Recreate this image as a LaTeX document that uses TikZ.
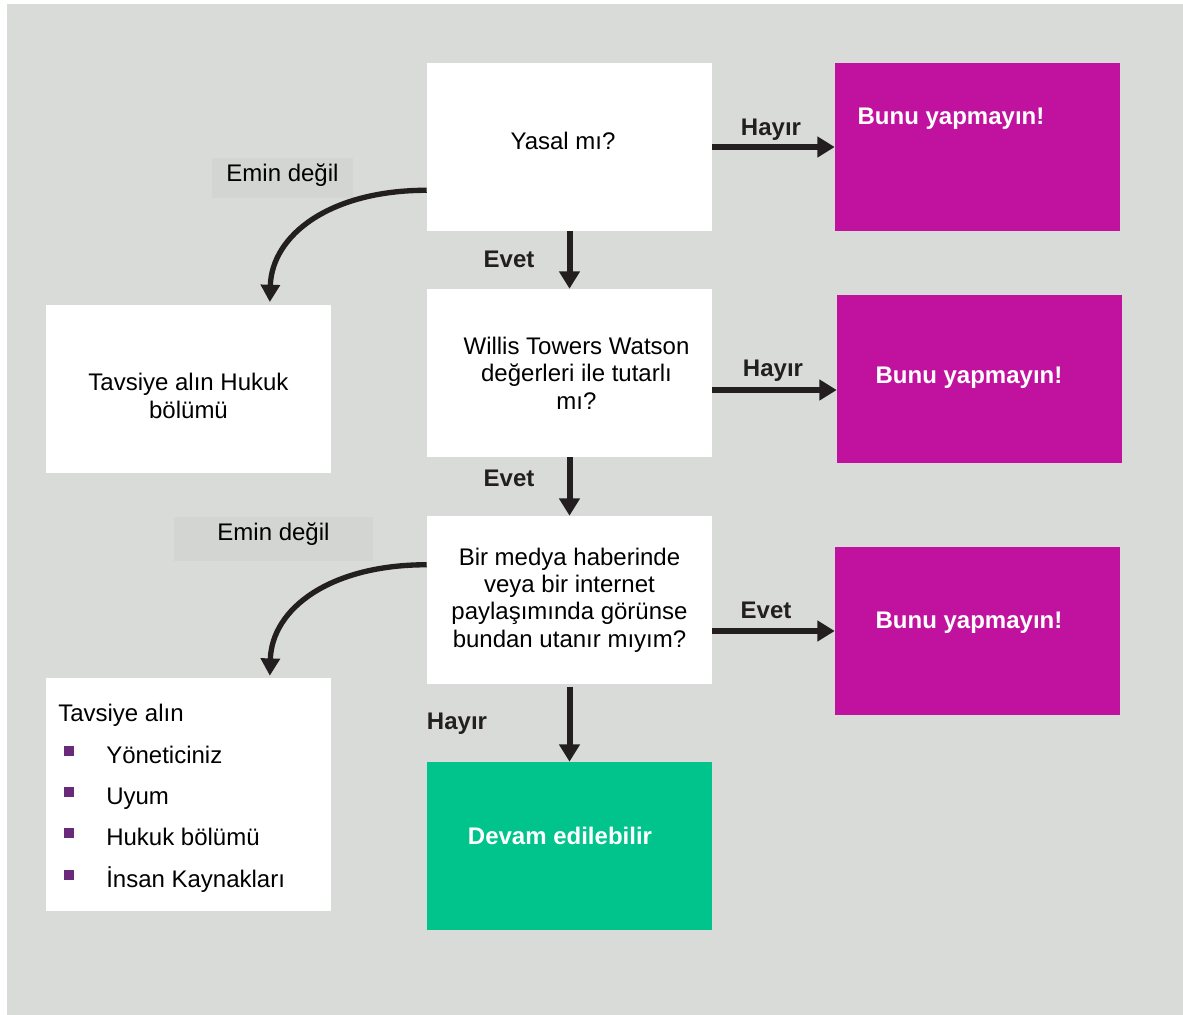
\documentclass[tikz,border=0pt]{standalone}
\usepackage{fontspec}
\setmainfont{Liberation Sans}
\usetikzlibrary{arrows.meta}
\definecolor{bg}{HTML}{D9DBD8}
\definecolor{tagbg}{HTML}{D3D5D3}
\definecolor{stopcol}{HTML}{C1129F}
\definecolor{gocol}{HTML}{00C48C}
\definecolor{ink}{HTML}{231F20}
\definecolor{dotcol}{HTML}{6A2A7C}
\newcommand{\bw}{213.75pt}
\newcommand{\bh}{126pt}
\newcommand{\itm}[1]{\hspace*{4.5pt}\textcolor{dotcol}{\rule[5.5pt]{7.5pt}{7.5pt}}\hspace{24pt}#1}

\begin{document}
\begin{tikzpicture}[x=0.75pt, y=-0.75pt,
    box/.style={fill=white, rectangle, minimum width=\bw, minimum height=\bh, inner sep=0pt, align=center, font=\fontsize{18}{20.6}\selectfont},
    stopbox/.style={box, fill=stopcol},
    gobox/.style={box, fill=gocol},
    txt/.style={inner sep=0pt, align=center, font=\fontsize{18}{20.6}\selectfont},
    wtxt/.style={inner sep=0pt, text=white, font=\fontsize{18}{22}\selectfont\bfseries},
    lbl/.style={text=ink, font=\fontsize{18}{22}\selectfont\bfseries, inner sep=0pt},
    tag/.style={fill=tagbg, inner sep=0pt, font=\fontsize{18}{22}\selectfont},
    arr/.style={draw=ink, line width=4.5pt, -{Triangle[length=13pt, width=15pt]}},
    curvearr/.style={draw=ink, line width=4pt, -{Triangle[length=13pt, width=14pt]}}]
    \useasboundingbox (0,0) rectangle (1183,1015);
    \fill[bg] (7,4) rectangle (1183,1015);

    % Middle column
    \node[box] (ask-1) at (569.5,147) {};
    \node[txt] (ask-1-t) at (563,141) {Yasal mı?};
    \node[box] (ask-2) at (569.5,373) {};
    \node[txt] (ask-2-t) at (576.5,373) {Willis Towers Watson\\değerleri ile tutarlı\\mı?};
    \node[box] (ask-3) at (569.5,600) {Bir medya haberinde\\veya bir internet\\paylaşımında görünse\\bundan utanır mıyım?};
    \node[gobox] (go) at (569.5,846) {};
    \node[wtxt] (go-t) at (560,836) {Devam edilebilir};

    % Right column
    \node[stopbox] (stop-1) at (977.5,147) {};
    \node[wtxt] (stop-1-t) at (951,119) {Bunu yapmayın!};
    \node[stopbox] (stop-2) at (979.5,379) {};
    \node[wtxt] (stop-2-t) at (969,378) {Bunu yapmayın!};
    \node[stopbox] (stop-3) at (977.5,631) {};
    \node[wtxt] (stop-3-t) at (969,623) {Bunu yapmayın!};

    % Left column
    \node[box] (advice-1) at (188.5,389) {};
    \node[txt] (advice-1-t) at (188.5,396) {Tavsiye alın Hukuk\\bölümü};
    \node[box, minimum height=174.75pt] (advice-2) at (188.5,794.5) {};
    \node[anchor=north west, inner sep=0pt, align=left, font=\fontsize{18}{31}\selectfont] (advice-2-t) at (58,704)
        {Tavsiye alın\\\itm{Yöneticiniz}\\\itm{Uyum}\\\itm{Hukuk bölümü}\\\itm{İnsan Kaynakları}};

    \node[tag, minimum width=105.75pt, minimum height=30pt, text depth=8.3pt] (unsure-1) at (282.5,178) {Emin değil};
    \node[tag, minimum width=149.25pt, minimum height=33pt, text depth=11.3pt] (unsure-2) at (273.5,539) {Emin değil};

    % Arrows
    \draw[arr] (ask-1.south) -- (ask-2.north);
    \draw[arr] (ask-2.south) -- (ask-3.north);
    \draw[arr] ([yshift=-2pt]ask-3.south) -- (go.north);
    \draw[arr] (ask-1.east) -- (stop-1.west);
    \draw[arr] ([yshift=-12.75pt]ask-2.east) -- ([yshift=-12.75pt]ask-2.east -| stop-2.west);
    \draw[arr] (ask-3.east |- stop-3.west) -- (stop-3.west);
    \draw[curvearr] ([yshift=30.75pt]ask-1.south west) .. controls +(-97,0) and +(2,-67) .. ([xshift=61pt,yshift=2pt]advice-1.north);
    \draw[curvearr] ([yshift=-36.75pt]ask-3.north west) .. controls +(-97,0) and +(2,-67) .. ([xshift=61pt,yshift=1.5pt]advice-2.north);

    \node[lbl] (no-1) at (771,130) {Hayır};
    \node[lbl] (yes-1) at (509,259) {Evet};
    \node[lbl] (no-2) at (773,371) {Hayır};
    \node[lbl] (yes-2) at (509,478) {Evet};
    \node[lbl] (yes-3) at (766,610) {Evet};
    \node[lbl] (no-3) at (457,724) {Hayır};

\end{tikzpicture}
\end{document}
